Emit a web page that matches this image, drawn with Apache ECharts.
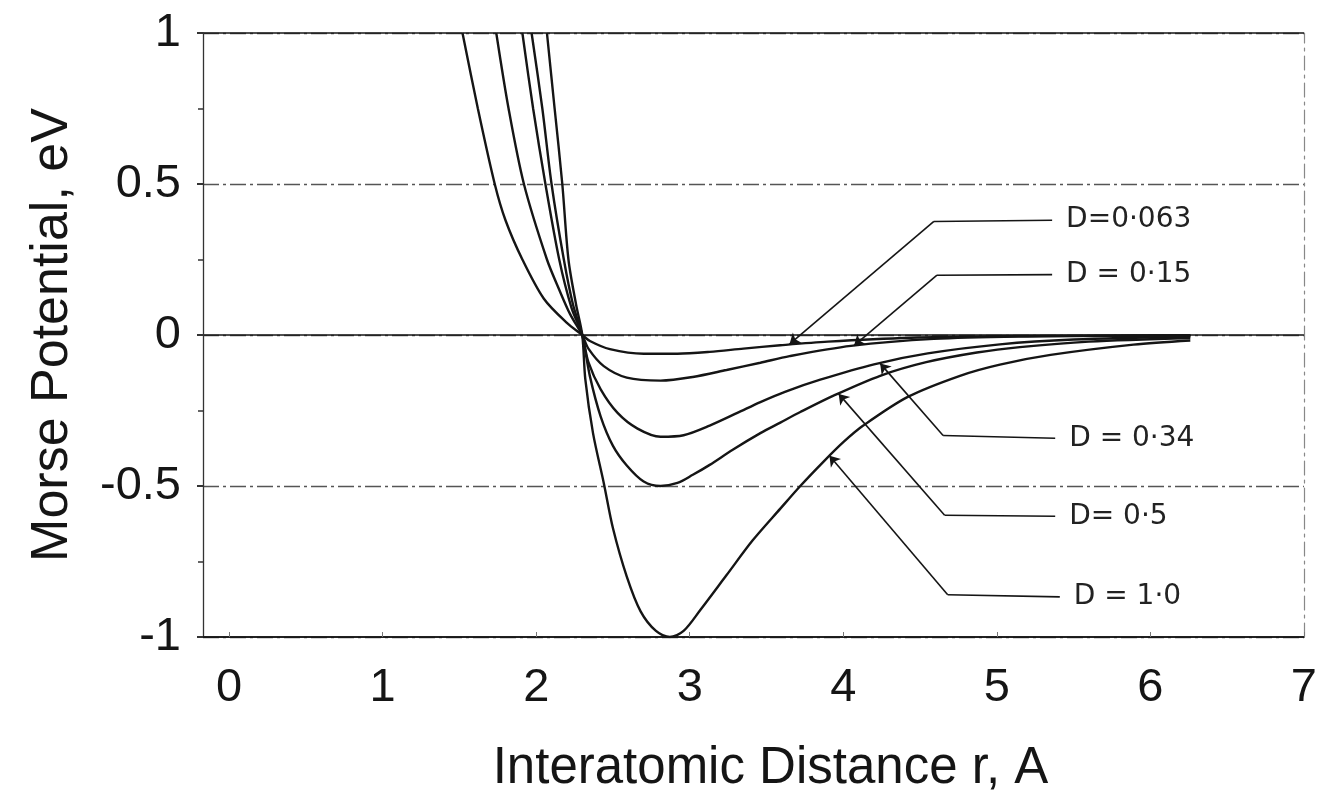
<!DOCTYPE html>
<html><head><meta charset="utf-8">
<script src="https://cdn.jsdelivr.net/npm/echarts@6/dist/echarts.min.js"></script>
<style>html,body{margin:0;padding:0;background:#fff}#c{width:1320px;height:799px}</style>
</head><body><div id="c"></div>
<script>
// ---- data ----
const xTickValues = [0, 1, 2, 3, 4, 5, 6, 7];
const yTickValues = [-1, -0.5, 0, 0.5, 1];
const curveNames = ['D=0.063', 'D=0.15', 'D=0.34', 'D=0.5', 'D=1.0'];
const labelTexts = ['D=0·063', 'D = 0·15', 'D = 0·34', 'D= 0·5', 'D = 1·0'];

const curveD0063 = [[1.52,1.0],[1.62,0.75],[1.73,0.5],[1.80,0.38],[1.91,0.25],[2.05,0.12],[2.20,0.04],[2.30,0],
  [2.35,-0.02],[2.48,-0.047],[2.70,-0.062],[2.92,-0.062],[3.13,-0.056],[3.35,-0.045],[3.59,-0.034],
  [3.90,-0.022],[4.44,-0.009],[5.0,-0.004],[5.6,-0.002],[6.26,-0.001]];
const curveD015 = [[1.74,1.0],[1.82,0.75],[1.92,0.5],[2.07,0.25],[2.15,0.15],[2.22,0.07],[2.30,0],
  [2.34,-0.045],[2.44,-0.103],[2.59,-0.141],[2.81,-0.151],[3.02,-0.139],[3.24,-0.116],[3.46,-0.092],
  [3.65,-0.07],[4.05,-0.036],[4.59,-0.013],[5.2,-0.005],[5.8,-0.003],[6.26,-0.002]];
const curveD034 = [[1.91,1.0],[1.98,0.75],[2.06,0.5],[2.15,0.25],[2.23,0.09],[2.30,0],
  [2.34,-0.09],[2.42,-0.18],[2.53,-0.258],[2.66,-0.31],[2.81,-0.337],[2.96,-0.332],[3.13,-0.3],
  [3.31,-0.258],[3.46,-0.222],[3.62,-0.188],[3.85,-0.148],[4.2,-0.097],[4.55,-0.061],[5.02,-0.031],
  [5.5,-0.015],[6.26,-0.005]];
const curveD05 = [[1.97,1.0],[2.04,0.75],[2.10,0.5],[2.18,0.25],[2.24,0.1],[2.30,0],
  [2.35,-0.137],[2.42,-0.27],[2.50,-0.367],[2.59,-0.432],[2.70,-0.485],[2.81,-0.5],[2.92,-0.49],
  [3.02,-0.463],[3.13,-0.43],[3.28,-0.38],[3.46,-0.325],[3.59,-0.29],[3.72,-0.255],[3.94,-0.2],
  [4.24,-0.135],[4.54,-0.09],[4.87,-0.058],[5.15,-0.04],[5.6,-0.022],[6.26,-0.01]];
const curveD10 = [[2.07,1.0],[2.12,0.75],[2.17,0.5],[2.21,0.25],[2.26,0.1],[2.30,0],
  [2.32,-0.147],[2.37,-0.325],[2.44,-0.49],[2.50,-0.64],[2.59,-0.8],[2.68,-0.915],[2.78,-0.98],
  [2.87,-1.0],[2.96,-0.98],[3.07,-0.91],[3.24,-0.795],[3.41,-0.68],[3.59,-0.575],[3.72,-0.5],
  [3.87,-0.42],[4.0,-0.355],[4.13,-0.3],[4.42,-0.205],[4.76,-0.135],[5.02,-0.098],[5.35,-0.066],
  [5.89,-0.032],[6.26,-0.018]];
const curves = [curveD0063, curveD015, curveD034, curveD05, curveD10];

// annotation leader lines (tip on curve -> elbow -> end of horizontal)
const labelTips   = [[3.65,-0.03],[4.07,-0.035],[4.24,-0.094],[3.97,-0.195],[3.91,-0.4]];
const labelElbows = [[4.59,0.376],[4.61,0.198],[4.65,-0.333],[4.66,-0.597],[4.68,-0.86]];
const labelEnds   = [[5.36,0.38],[5.36,0.2],[5.38,-0.342],[5.38,-0.6],[5.41,-0.867]];

// ---- chart ----
const chart = echarts.init(document.getElementById('c'), null, {renderer: 'canvas'});
const FONT = 'Liberation Sans, Arial, sans-serif';

const series = curves.map((data, i) => ({
  name: curveNames[i],
  type: 'line',
  data: data,
  smooth: 0.3,
  showSymbol: false,
  symbol: 'none',
  clip: true,
  lineStyle: {color: '#151515', width: 2.4},
  z: 3,
  markLine: {
    silent: true,
    symbol: ['none', 'none'],
    symbolSize: 10,
    lineStyle: {color: '#151515', width: 1.6, type: 'solid'},
    label: {show: false},
    data: [
      [{coord: labelTips[i], symbol: 'arrow'}, {coord: labelElbows[i], symbol: 'none'}],
      [{coord: labelElbows[i]}, {coord: labelEnds[i],
        label: {show: true, position: 'end', distance: 14, formatter: labelTexts[i],
                fontFamily: 'DejaVu Sans, sans-serif', fontSize: 28, color: '#222'}}]
    ]
  }
}));

chart.setOption({
  animation: false,
  backgroundColor: '#fff',
  grid: {left: 203, right: 15, top: 33, bottom: 159, containLabel: false},
  xAxis: {
    type: 'value', min: -0.17, max: 7,
    name: 'Interatomic Distance r, A', nameLocation: 'middle', nameGap: 106,
    nameTextStyle: {fontFamily: FONT, fontSize: 51, color: '#151515', padding: [0, 0, 0, 34]},
    axisLine: {show: true, onZero: false, lineStyle: {color: '#151515', width: 1.6}},
    axisTick: {show: true, inside: true, length: 5, customValues: xTickValues, lineStyle: {color: '#777', width: 1}},
    axisLabel: {show: true, customValues: xTickValues, fontFamily: FONT, fontSize: 47, color: '#151515', margin: 28},
    splitLine: {show: false}
  },
  yAxis: [{
    type: 'value', min: -1, max: 1, interval: 0.5, position: 'left',
    name: 'Morse Potential, eV', nameLocation: 'middle', nameGap: 124, nameRotate: 90,
    nameTextStyle: {fontFamily: FONT, fontSize: 52, color: '#151515'},
    axisLine: {show: true, onZero: false, lineStyle: {color: '#333', width: 1.3}},
    axisTick: {show: true, inside: false, length: 6, lineStyle: {color: '#333', width: 2}},
    minorTick: {show: true, splitNumber: 2, length: 5, lineStyle: {color: '#333', width: 1.5}},
    axisLabel: {fontFamily: FONT, fontSize: 47, color: '#151515', margin: 22,
                customValues: yTickValues},
    splitLine: {show: true, lineStyle: {color: '#555', width: 1.3, type: [16, 4, 3, 4]}}
  }, {
    type: 'value', min: -1, max: 1, interval: 1, position: 'right',
    axisLine: {show: true, onZero: false, lineStyle: {color: '#888', width: 1.2, type: [14, 5, 3, 5]}},
    axisTick: {show: false},
    axisLabel: {show: false},
    splitLine: {show: true, lineStyle: {color: '#151515', width: 1.6, type: 'solid'}}
  }],
  series: series
});
</script>
</body></html>
